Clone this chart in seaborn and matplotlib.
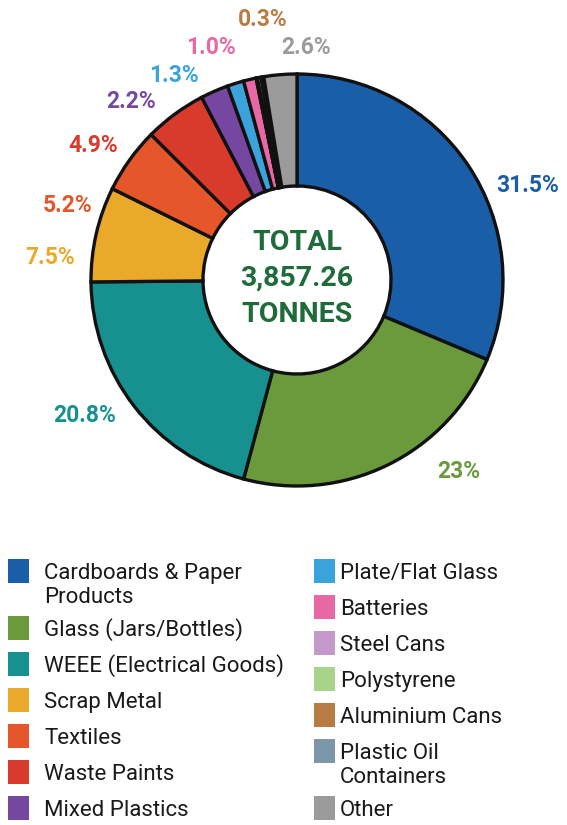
import matplotlib
matplotlib.use("Agg")
import matplotlib.pyplot as plt
from matplotlib.patches import Rectangle
import seaborn as sns

# ---------------- data ----------------
categories = [
    "Cardboards & Paper\nProducts", "Glass (Jars/Bottles)", "WEEE (Electrical Goods)",
    "Scrap Metal", "Textiles", "Waste Paints", "Mixed Plastics",
    "Plate/Flat Glass", "Batteries", "Steel Cans", "Polystyrene",
    "Aluminium Cans", "Plastic Oil\nContainers", "Other",
]
shares = [31.5, 23.0, 20.8, 7.5, 5.2, 4.9, 2.2, 1.3, 1.0, 0.05, 0.05, 0.3, 0.2, 2.6]
pct_labels = ["31.5%", "23%", "20.8%", "7.5%", "5.2%", "4.9%", "2.2%",
              "1.3%", "1.0%", "", "", "0.3%", "", "2.6%"]
colors_hex = ["#1a5ea8", "#6a9a3c", "#17918f", "#eaa92a", "#e5562a", "#d83a2b",
              "#7547a0", "#3aa3dc", "#e868a6", "#c399c9", "#a7d38b", "#b97b44",
              "#7d97aa", "#9b9b9b"]
total_text = ["TOTAL", "3,857.26", "TONNES"]

# ---------------- layout (pixels) ----------------
W, H = 567, 825
CX, CY, R, R_IN = 297, 280, 206, 94
# label positions (pixel) for the percentage texts
label_px = [(528, 185), (459, 472), (85, 415), (50, 258), (68, 205), (93, 145),
            (131, 101), (174, 76), (211, 48), None, None, (263, 20), None, (306, 48)]

sns.set_theme(style="white")
plt.rcParams["font.family"] = ["Roboto", "DejaVu Sans"]

palette = sns.color_palette(colors_hex)

fig = plt.figure(figsize=(W / 100, H / 100), dpi=100)
fig.patch.set_facecolor("white")

top_px, bot_px = 0, 520
ax = fig.add_axes([0, (H - bot_px) / H, 1, (bot_px - top_px) / H])
ax.pie(shares, colors=palette, startangle=90, counterclock=False,
       wedgeprops=dict(width=1 - R_IN / R, edgecolor="#111111", linewidth=2.4))
ax.set_xlim(-CX / R, (W - CX) / R)
ax.set_ylim((CY - bot_px) / R, (CY - top_px) / R)
ax.set_aspect("auto")
ax.axis("off")

# percentage labels
for lab, pos, col in zip(pct_labels, label_px, palette):
    if not lab or pos is None:
        continue
    x = (pos[0] - CX) / R
    y = (CY - pos[1]) / R
    ax.text(x, y, lab, color=col, fontsize=16.5, fontweight="bold",
            ha="center", va="center")

# center total
for i, t in enumerate(total_text):
    ax.text(0, (CY - (242 + 36 * i)) / R, t, color="#1f6b3a", fontsize=20.5,
            fontweight="bold", ha="center", va="center")

# ---------------- legend ----------------
def fx(px):
    return px / W

def fy(py):
    return 1 - py / H

cols = [(categories[:7], palette[:7], 8, 44), (categories[7:], palette[7:], 314, 340)]
for labels, cols_, sq_x, tx in cols:
    yc = 571
    for lab, col in zip(labels, cols_):
        lines = lab.split("\n")
        fig.patches.append(Rectangle((fx(sq_x), fy(yc + 12)), 21 / W, 24 / H,
                                     transform=fig.transFigure, facecolor=col,
                                     edgecolor="none"))
        for j, ln in enumerate(lines):
            fig.text(fx(tx), fy(yc + 8 + 24 * j), ln, fontsize=16,
                     color="#1a1a1a", ha="left", va="baseline")
        yc += 36 + 21 * (len(lines) - 1)

fig.savefig("out.png", dpi=100, facecolor="white")
